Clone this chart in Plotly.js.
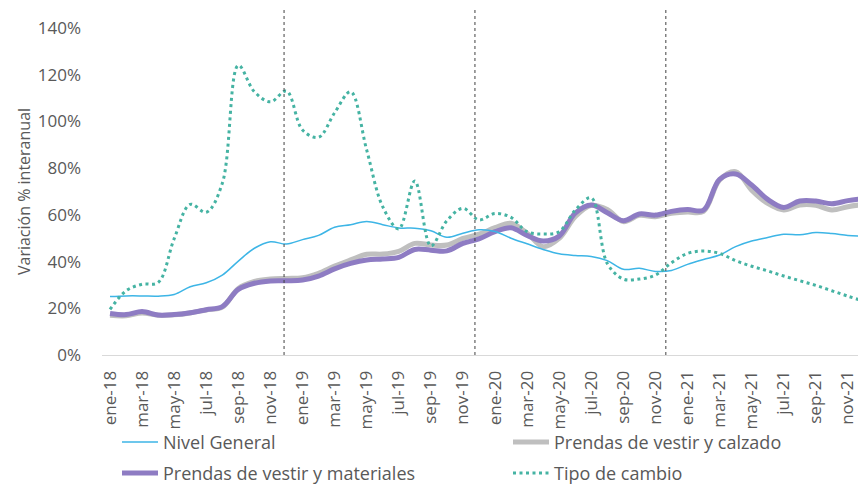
<!DOCTYPE html>
<html>
<head>
<meta charset="utf-8">
<script src="https://cdn.plot.ly/plotly-3.0.1.min.js"></script>
<style>
  html, body { margin: 0; padding: 0; background: #ffffff; }
  #chart { width: 858px; height: 484px; }
</style>
</head>
<body>
<div id="chart"></div>
<script>
// ---- Data (variación % interanual) ----
const categories = [
  'ene-18','feb-18','mar-18','abr-18','may-18','jun-18','jul-18','ago-18','sep-18','oct-18','nov-18','dic-18',
  'ene-19','feb-19','mar-19','abr-19','may-19','jun-19','jul-19','ago-19','sep-19','oct-19','nov-19','dic-19',
  'ene-20','feb-20','mar-20','abr-20','may-20','jun-20','jul-20','ago-20','sep-20','oct-20','nov-20','dic-20',
  'ene-21','feb-21','mar-21','abr-21','may-21','jun-21','jul-21','ago-21','sep-21','oct-21','nov-21','dic-21'
];

const tickLabels = [
  'ene-18','mar-18','may-18','jul-18','sep-18','nov-18',
  'ene-19','mar-19','may-19','jul-19','sep-19','nov-19',
  'ene-20','mar-20','may-20','jul-20','sep-20','nov-20',
  'ene-21','mar-21','may-21','jul-21','sep-21','nov-21'
];

const yTickValues = [0, 20, 40, 60, 80, 100, 120, 140];
const yTickLabels = ['0%', '20%', '40%', '60%', '80%', '100%', '120%', '140%'];

const nivelGeneral = [
  25.0, 25.3, 25.3, 25.2, 25.9, 29.2, 30.9, 34.2, 40.2, 45.7, 48.5, 47.5,
  49.4, 51.2, 54.7, 55.8, 57.2, 55.8, 54.4, 54.3, 53.2, 50.4, 52.1, 53.6,
  52.9, 50.0, 47.6, 45.2, 43.3, 42.6, 42.2, 40.4, 36.7, 37.1, 35.8, 36.2,
  38.8, 40.9, 42.8, 46.4, 48.8, 50.3, 51.7, 51.5, 52.4, 52.0, 51.2, 50.8
];

const prendasCalzado = [
  17.0, 16.8, 18.0, 17.0, 17.2, 18.0, 19.3, 20.5, 28.5, 31.5, 32.5, 32.8,
  33.1, 35.0, 38.1, 40.7, 43.1, 43.2, 44.4, 47.8, 47.1, 47.1, 49.9, 51.7,
  54.5, 56.4, 52.1, 46.4, 49.9, 59.2, 64.1, 62.3, 57.1, 59.8, 59.2, 60.7,
  61.2, 61.5, 74.9, 78.5, 70.6, 64.9, 62.1, 64.2, 64.1, 62.1, 63.5, 64.5
];

const prendasMateriales = [
  17.8, 17.3, 18.6, 17.1, 17.3, 18.1, 19.4, 20.7, 28.1, 30.7, 31.7, 31.8,
  32.1, 33.8, 36.9, 39.2, 40.7, 41.1, 41.8, 45.2, 44.9, 44.6, 47.8, 49.7,
  52.8, 54.5, 51.2, 48.8, 50.9, 60.7, 64.2, 60.9, 57.5, 60.4, 59.9, 61.5,
  62.3, 62.0, 75.2, 77.5, 72.8, 66.6, 63.2, 65.9, 65.9, 64.8, 66.1, 67.0
];

const tipoCambio = [
  19.5, 27.5, 30.3, 31.0, 49.8, 64.5, 61.1, 73.5, 124.0, 112.7, 108.4, 113.0,
  96.3, 93.2, 103.7, 112.7, 87.8, 63.5, 54.0, 74.5, 46.7, 57.5, 62.8, 57.8,
  60.6, 58.9, 52.8, 51.8, 52.8, 62.0, 67.3, 39.2, 32.5, 32.5, 34.2, 39.5,
  43.5, 44.5, 43.5, 40.4, 38.0, 36.0, 33.8, 31.8, 29.8, 27.5, 25.2, 23.0
];

// vertical reference lines (category index positions)
const eventLines = [10.85, 22.75, 34.65];

// ---- Chart ----
const FONT = 'Open Sans, Noto Sans, DejaVu Sans, sans-serif';
const TXT = '#595959';

const traces = [
  {
    name: 'Prendas de vestir y calzado', x: categories, y: prendasCalzado,
    type: 'scatter', mode: 'lines', legend: 'legend2',
    line: { color: '#BFBFBF', width: 5, shape: 'spline', smoothing: 1 }
  },
  {
    name: 'Prendas de vestir y materiales', x: categories, y: prendasMateriales,
    type: 'scatter', mode: 'lines', legend: 'legend3',
    line: { color: '#8E7CC3', width: 5, shape: 'spline', smoothing: 1 }
  },
  {
    name: 'Nivel General', x: categories, y: nivelGeneral,
    type: 'scatter', mode: 'lines', legend: 'legend',
    line: { color: '#3DB5E6', width: 1.5, shape: 'spline', smoothing: 1 }
  },
  {
    name: 'Tipo de cambio', x: categories, y: tipoCambio,
    type: 'scatter', mode: 'lines', legend: 'legend4',
    line: { color: '#45B3A3', width: 3, dash: '3px,3.5px', shape: 'spline', smoothing: 1 }
  }
];

const shapes = eventLines.map(v => ({
  type: 'line', xref: 'x', yref: 'paper', x0: v, x1: v, y0: 0, y1: 1.055,
  line: { color: '#404040', width: 1, dash: 'dot' }, layer: 'above'
}));

const legendCommon = {
  orientation: 'h', xanchor: 'left', yanchor: 'middle',
  xref: 'container', yref: 'container',
  font: { family: FONT, size: 18, color: TXT },
  bgcolor: 'rgba(0,0,0,0)', itemwidth: 36
};

const COL1 = 117 / 858, COL2 = 508 / 858, ROW1 = 0.086, ROW2 = 0.022;

const layout = {
  width: 858, height: 484,
  margin: { l: 102, r: 0, t: 28, b: 129, autoexpand: false },
  paper_bgcolor: '#ffffff', plot_bgcolor: '#ffffff',
  font: { family: FONT, color: TXT },
  showlegend: true,
  xaxis: {
    type: 'category', automargin: false,
    range: [-0.5, 46.63],
    tickmode: 'array', tickvals: tickLabels, ticktext: tickLabels,
    tickangle: -90,
    tickfont: { family: FONT, size: 17, color: TXT },
    showgrid: false, zeroline: false,
    showline: true, linecolor: '#D9D9D9', linewidth: 1,
    ticks: '', ticklabelstandoff: 8
  },
  yaxis: {
    automargin: false,
    range: [0, 140],
    tickmode: 'array', tickvals: yTickValues, ticktext: yTickLabels,
    tickfont: { family: FONT, size: 17, color: TXT },
    showgrid: false, zeroline: false, showline: false,
    ticks: '', ticklabelstandoff: 20,
    title: { text: 'Variación % interanual', font: { family: FONT, size: 16, color: TXT }, standoff: 3 }
  },
  legend:  Object.assign({}, legendCommon, { x: COL1, y: ROW1 }),
  legend2: Object.assign({}, legendCommon, { x: COL2, y: ROW1 }),
  legend3: Object.assign({}, legendCommon, { x: COL1, y: ROW2 }),
  legend4: Object.assign({}, legendCommon, { x: COL2, y: ROW2 }),
  shapes: shapes
};

Plotly.newPlot('chart', traces, layout, { displayModeBar: false, staticPlot: true });
</script>
</body>
</html>
